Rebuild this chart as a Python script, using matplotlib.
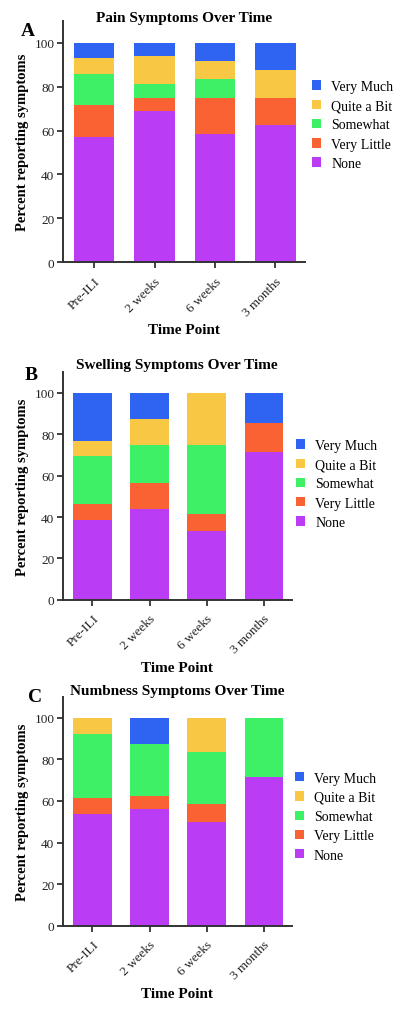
import matplotlib
matplotlib.use("Agg")
import matplotlib.pyplot as plt
import numpy as np

timepoints = ["Pre-ILI", "2 weeks", "6 weeks", "3 months"]
levels = ["None", "Very Little", "Somewhat", "Quite a Bit", "Very Much"]
colors = ["#BB3CF5", "#FA6234", "#3DF065", "#F8C743", "#2F64F3"]

# Pain (percent per level, stacked bottom->top)
pain_none = [57.1, 68.75, 58.3, 62.5]
pain_little = [14.3, 6.25, 16.7, 12.5]
pain_somewhat = [14.3, 6.25, 8.3, 0.0]
pain_quite = [7.1, 12.5, 8.3, 12.5]
pain_much = [7.1, 6.25, 8.3, 12.5]

# Swelling
swell_none = [38.5, 43.75, 33.3, 71.4]
swell_little = [7.7, 12.5, 8.3, 14.3]
swell_somewhat = [23.1, 18.75, 33.3, 0.0]
swell_quite = [7.7, 12.5, 25.0, 0.0]
swell_much = [23.1, 12.5, 0.0, 14.3]

# Numbness
numb_none = [53.8, 56.25, 50.0, 71.4]
numb_little = [7.7, 6.25, 8.3, 0.0]
numb_somewhat = [30.8, 25.0, 25.0, 28.6]
numb_quite = [7.7, 0.0, 16.7, 0.0]
numb_much = [0.0, 12.5, 0.0, 0.0]

yticks = [0, 20, 40, 60, 80, 100]

panels = [
    ("A", "Pain Symptoms Over Time",
     [pain_none, pain_little, pain_somewhat, pain_quite, pain_much]),
    ("B", "Swelling Symptoms Over Time",
     [swell_none, swell_little, swell_somewhat, swell_quite, swell_much]),
    ("C", "Numbness Symptoms Over Time",
     [numb_none, numb_little, numb_somewhat, numb_quite, numb_much]),
]

plt.rcParams['font.family'] = ['Liberation Serif', 'DejaVu Serif']

fig = plt.figure(figsize=(4.0, 10.12), dpi=100)

# layout (figure fractions)
ax_rects = [
    [0.157, 0.7398, 0.7625 - 0.157, 0.9786 - 0.7398],
    [0.157, 0.4064, 0.729 - 0.157, 0.6311 - 0.4064],
    [0.157, 0.0843, 0.729 - 0.157, 0.3103 - 0.0843],
]
title_y = [1.011, 1.036, 1.028]
letter_pos = [(28, 31), (31, 376), (35, 697)]
legend_pos = [(0.781, 0.8755), (0.741, 0.5208), (0.738, 0.1920)]

W, H = 400.0, 1012.0
spine_col = "#333333"

for i, (letter, title, series) in enumerate(panels):
    ax = fig.add_axes(ax_rects[i])
    x = np.arange(len(timepoints))
    bottom = np.zeros(len(timepoints))
    handles = []
    for vals, lab, col in zip(series, levels, colors):
        v = np.array(vals, dtype=float)
        b = ax.bar(x, v, width=0.67, bottom=bottom, color=col, label=lab,
                   edgecolor='none')
        handles.append(b)
        bottom = bottom + v
    ax.set_xlim(-0.52, 3.49)
    ax.set_ylim(0, 110)
    ax.set_yticks(yticks)
    ax.set_yticklabels([str(t) for t in yticks], fontsize=9.5, color="#222222")
    ax.set_xticks(x)
    ax.set_xticklabels(timepoints, rotation=45, ha='right',
                       rotation_mode='anchor', fontsize=9.5, color="#222222")
    for s in ['top', 'right']:
        ax.spines[s].set_visible(False)
    for s in ['left', 'bottom']:
        ax.spines[s].set_linewidth(1.4)
        ax.spines[s].set_color(spine_col)
    ax.tick_params(axis='both', direction='out', length=4, width=1.3,
                   color=spine_col, pad=2)
    ax.tick_params(axis='x', pad=5)
    for lbl in ax.get_xticklabels():
        lbl.set_x(lbl.get_position()[0])
    ax.set_ylabel("Percent reporting symptoms", fontsize=10.5,
                  fontweight='bold', labelpad=4)
    ax.set_xlabel("Time Point", fontsize=11, fontweight='bold', labelpad=4)
    ax.text(0.5, title_y[i], title, transform=ax.transAxes, ha='center',
            va='center', fontsize=11, fontweight='bold')
    lx, ly = letter_pos[i]
    fig.text(lx / W, 1 - ly / H, letter, ha='center', va='center',
             fontsize=14, fontweight='bold')
    leg = ax.legend(handles[::-1], levels[::-1], loc='center left',
                    bbox_to_anchor=legend_pos[i],
                    bbox_transform=fig.transFigure, frameon=False,
                    fontsize=10, handlelength=0.65, handleheight=0.65,
                    handletextpad=0.7, labelspacing=0.45, borderpad=0,
                    borderaxespad=0)

fig.savefig("out.png", dpi=100, facecolor='white')
